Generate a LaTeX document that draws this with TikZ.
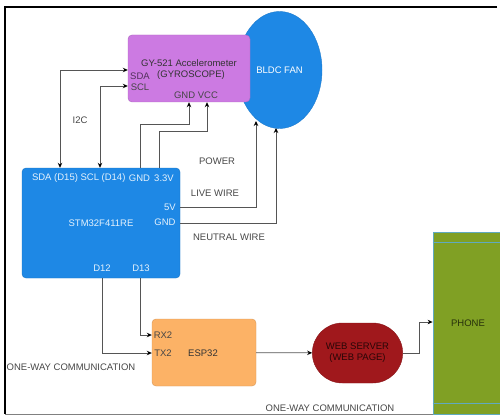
\documentclass[tikz,border=0pt]{standalone}
\usepackage{fontspec}
\setmainfont{Liberation Sans}
\usetikzlibrary{arrows.meta, positioning, shapes.geometric, shapes.misc}

\definecolor{gyrofill}{RGB}{204,122,226}
\definecolor{stmfill}{RGB}{30,136,229}
\definecolor{espfill}{RGB}{252,178,102}
\definecolor{webfill}{RGB}{160,24,28}
\definecolor{phonefill}{RGB}{128,160,36}
\definecolor{phoneedge}{RGB}{96,170,190}
\definecolor{wiregray}{RGB}{85,85,85}
\definecolor{labelgray}{RGB}{70,70,70}

\begin{document}
\begin{tikzpicture}[
    x=1pt, y=-1pt,
    font=\fontsize{9.5}{11}\selectfont,
    >={Stealth[length=5pt, width=4.5pt, black]},
    board/.style={rectangle, rounded corners=4pt, draw=#1!85!black, fill=#1, line width=0.4pt, align=center},
    pinlabel/.style={inner sep=0pt, text=labelgray},
    stmlabel/.style={inner sep=0pt, text=white!88!stmfill},
    wire/.style={draw=wiregray, line width=0.8pt},
    wirelabel/.style={inner sep=0pt, text=labelgray}
]
\useasboundingbox (0,0) rectangle (500,417);
\draw[line width=1.6pt] (497,7) -- (5,7) -- (5,414);
\draw[gray, line width=0.8pt] (5,414) -- (500,414);

\node[ellipse, fill=stmfill, draw=stmfill!90!black, line width=0.4pt, minimum width=85pt, minimum height=117pt, text=white] (fan) at (279.5,70) {BLDC FAN};
\node[board=gyrofill, minimum width=122pt, minimum height=67pt, text=black!80, text depth=0pt] (gyro) at (189,68.5) {GY-521 Accelerometer\\\hspace*{4pt}(GYROSCOPE)};
\node[board=stmfill, minimum width=158pt, minimum height=110pt, text=white!88!stmfill] (stm) at (101,223) {STM32F411RE};
\node[board=espfill, minimum width=104pt, minimum height=67pt, text=black!80] (esp) at (204,352.5) {};
\node[rounded rectangle, fill=webfill, draw=webfill!85!black, line width=0.4pt, minimum width=97pt, minimum height=60pt, align=center, text=black!75!webfill] (web) at (357.5,353) {WEB SERVER\\(WEB PAGE)};
\node[rectangle, fill=phonefill, draw=phoneedge, line width=0.8pt, minimum width=70pt, minimum height=182pt, text=black!70!phonefill] (phone) at (468,323) {PHONE};
\draw[phoneedge, line width=0.8pt] ([yshift=-11pt]phone.north west) -- ([yshift=-11pt]phone.north east);
\draw[phoneedge, line width=0.8pt] ([yshift=11pt]phone.south west) -- ([yshift=11pt]phone.south east);

\node[pinlabel, text=black!60!gyrofill] (sdaG) at (140,76) {SDA};
\node[pinlabel] (sclG) at (140,87) {SCL};
\node[pinlabel] (pwrG) at (196,95) {GND VCC};

\node[stmlabel] (sdaS) at (55,178) {SDA (D15)};
\node[stmlabel] (sclS) at (103,178) {SCL (D14)};
\node[stmlabel] (gndS) at (139.5,178) {GND};
\node[stmlabel] (v33S) at (164,178) {3.3V};
\node[stmlabel] (v5S) at (170,207) {5V};
\node[stmlabel] (gnd2S) at (165,222) {GND};
\node[stmlabel] (d12S) at (102,268) {D12};
\node[stmlabel] (d13S) at (141,268) {D13};

\node[pinlabel] (rxE) at (163,335) {RX2};
\node[pinlabel] (txE) at (163,353) {TX2};
\node[pinlabel, text=black!80] (espname) at (203,353) {ESP32};

\coordinate (fanL) at (256,121);
\coordinate (fanR) at (276,128);

\draw[wire, <->] (stm.north -| 60,0) |- (gyro.west |- 0,70);
\draw[wire, <->] (stm.north -| 100,0) |- (gyro.west |- 0,86);
\draw[wire, ->] (stm.north -| 140,0) -- ++(0,-43) -| (gyro.south -| 189,0);
\draw[wire, ->] (stm.north -| 159,0) -- ++(0,-36) -| (gyro.south -| 207,0);
\draw[wire, ->] (stm.east |- 0,207) -| (fanL);
\draw[wire, ->] (stm.east |- 0,223) -| (fanR);
\draw[wire, ->] (stm.south -| 140,0) |- (esp.west |- 0,335);
\draw[wire, ->] (stm.south -| 102,0) |- (esp.west |- 0,353);
\draw[wire, ->] (esp) -- (web);
\draw[wire, ->] (web.east) -- ++(17,0) |- (phone.west |- 0,322);

\node[wirelabel] (i2c) at (80,120) {I2C};
\node[wirelabel] (power) at (217,161) {POWER};
\node[wirelabel] (live) at (215,193) {LIVE WIRE};
\node[wirelabel] (neutral) at (229,237) {NEUTRAL WIRE};
\node[wirelabel] (uart) at (71,367) {ONE-WAY COMMUNICATION};
\node[wirelabel] (http) at (330,408) {ONE-WAY COMMUNICATION};
\end{tikzpicture}
\end{document}
